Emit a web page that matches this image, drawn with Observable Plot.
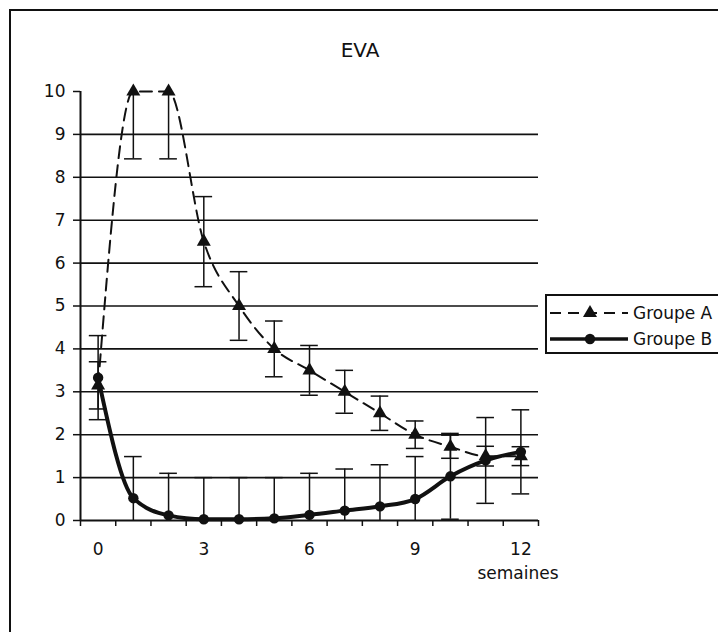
<!DOCTYPE html>
<html>
<head>
<meta charset="utf-8">
<script src="https://cdn.jsdelivr.net/npm/d3@7"></script>
<script src="https://cdn.jsdelivr.net/npm/@observablehq/plot@0.6"></script>
<style>
  html, body { margin: 0; padding: 0; background: #fff; overflow: hidden; }
  #wrap { position: relative; width: 718px; height: 632px; overflow: hidden; font-family: "DejaVu Sans", sans-serif; color: #111; }
  #frame { position: absolute; left: 9px; top: 9px; width: 760px; height: 680px; border: 2px solid #111; box-sizing: border-box; }
  #title { position: absolute; left: 10px; width: 700px; top: 37px; text-align: center; font-size: 20px; line-height: 26px; }
  #chart { position: absolute; left: 0; top: 0; }
  #legend { position: absolute; left: 545px; top: 294px; width: 200px; height: 60px; border: 2.5px solid #111; box-sizing: border-box; padding-top: 4px; background: #fff; }
  .row { display: flex; align-items: center; height: 26px; font-size: 17px; }
  .row svg { margin-left: 3px; margin-right: 5px; }
</style>
</head>
<body>
<div id="wrap">
  <div id="frame"></div>
  <div id="chart"></div>
  <div id="title">EVA</div>
  <div id="legend"></div>
</div>
<script>
// ---- data ----
const weeks  = [0, 1, 2, 3, 4, 5, 6, 7, 8, 9, 10, 11, 12];
const groupA = [3.15, 10, 10, 6.5, 5.0, 4.0, 3.5, 3.0, 2.5, 2.0, 1.72, 1.5, 1.5];
const errA   = [0.55, 1.57, 1.57, 1.05, 0.8, 0.65, 0.58, 0.5, 0.4, 0.32, 0.27, 0.23, 0.22];
const groupB = [3.33, 0.52, 0.12, 0.03, 0.03, 0.05, 0.13, 0.23, 0.33, 0.5, 1.03, 1.4, 1.6];
const errB   = [0.98, 0.97, 0.98, 0.97, 0.97, 0.95, 0.97, 0.97, 0.97, 0.99, 1.0, 1.0, 0.98];
const seriesNames = ["Groupe A", "Groupe B"];
const yTicks = [0, 1, 2, 3, 4, 5, 6, 7, 8, 9, 10];
const xLabelTicks = [0, 3, 6, 9, 12];
const xAxisTitle = "semaines";

const yMax = 10, yMin = 0;
function build(name, vals, errs) {
  return weeks.map((w, i) => {
    const hi = vals[i] + errs[i], lo = vals[i] - errs[i];
    return {series: name, week: w, value: vals[i],
      hi: Math.min(yMax, hi), lo: Math.max(yMin, lo),
      hiCap: hi <= yMax, loCap: lo >= yMin};
  });
}
const dataA = build(seriesNames[0], groupA, errA);
const dataB = build(seriesNames[1], groupB, errB);
const all = dataA.concat(dataB);
const boundaries = weeks.map(w => w - 0.5).concat([weeks[weeks.length - 1] + 0.5]);
const capHalf = 0.25;

const chart = Plot.plot({
  width: 718, height: 632,
  marginLeft: 80, marginRight: 180, marginTop: 91, marginBottom: 112,
  x: {domain: [boundaries[0], boundaries[boundaries.length - 1]]},
  y: {domain: [yMin, yMax]},
  style: {fontFamily: "DejaVu Sans, sans-serif", fontSize: "17px", color: "#111", background: "transparent", overflow: "visible"},
  marks: [
    Plot.ruleY(yTicks.filter(t => t > yMin && t < yMax), {stroke: "#111", strokeWidth: 1.6}),
    Plot.axisY({ticks: yTicks, tickSize: 7, tickPadding: 8, strokeWidth: 1.5, label: null, tickFormat: d => String(d)}),
    Plot.axisX({ticks: boundaries, tickSize: 6, strokeWidth: 1.5, tickFormat: () => "", label: null}),
    Plot.axisX({ticks: xLabelTicks, tickSize: 0, tickPadding: 22, label: null, tickFormat: d => String(d)}),
    Plot.ruleX([boundaries[0]], {y1: yMin, y2: yMax, stroke: "#111", strokeWidth: 2}),
    Plot.ruleY([yMin], {stroke: "#111", strokeWidth: 2}),
    // error bars
    Plot.ruleX(all, {x: "week", y1: "lo", y2: "hi", stroke: "#111", strokeWidth: 1.5}),
    Plot.ruleY(all.filter(d => d.hiCap), {y: "hi", x1: d => d.week - capHalf, x2: d => d.week + capHalf, stroke: "#111", strokeWidth: 1.5}),
    Plot.ruleY(all.filter(d => d.loCap), {y: "lo", x1: d => d.week - capHalf, x2: d => d.week + capHalf, stroke: "#111", strokeWidth: 1.5}),
    // lines
    Plot.line(dataA, {x: "week", y: "value", curve: "monotone-x", stroke: "#111", strokeWidth: 2, strokeDasharray: "12,7"}),
    Plot.line(dataB, {x: "week", y: "value", curve: "monotone-x", stroke: "#111", strokeWidth: 4}),
    // markers
    Plot.dot(dataA, {x: "week", y: "value", symbol: "triangle", r: 5.2, fill: "#111", stroke: "none"}),
    Plot.dot(dataB, {x: "week", y: "value", symbol: "circle", r: 5.2, fill: "#111", stroke: "none"}),
    Plot.text([xAxisTitle], {frameAnchor: "bottom-right", dx: 20, dy: 58, textAnchor: "end", text: d => d, fontSize: 17, fill: "#111"})
  ]
});
document.getElementById("chart").appendChild(chart);

// legend
const legend = d3.select("#legend");
seriesNames.forEach((name, i) => {
  const row = legend.append("div").attr("class", "row");
  const svg = row.append("svg").attr("width", 78).attr("height", 20);
  const line = svg.append("line").attr("x1", 0).attr("x2", 78).attr("y1", 10).attr("y2", 10)
    .attr("stroke", "#111");
  if (i === 0) {
    line.attr("stroke-width", 2).attr("stroke-dasharray", "11,7");
    svg.append("path").attr("d", d3.symbol(d3.symbolTriangle, Math.PI * 5.2 * 5.2)()).attr("transform", "translate(40,10)").attr("fill", "#111");
  } else {
    line.attr("stroke-width", 3.5);
    svg.append("circle").attr("cx", 40).attr("cy", 10).attr("r", 5.2).attr("fill", "#111");
  }
  row.append("span").text(name);
});
</script>
</body>
</html>
